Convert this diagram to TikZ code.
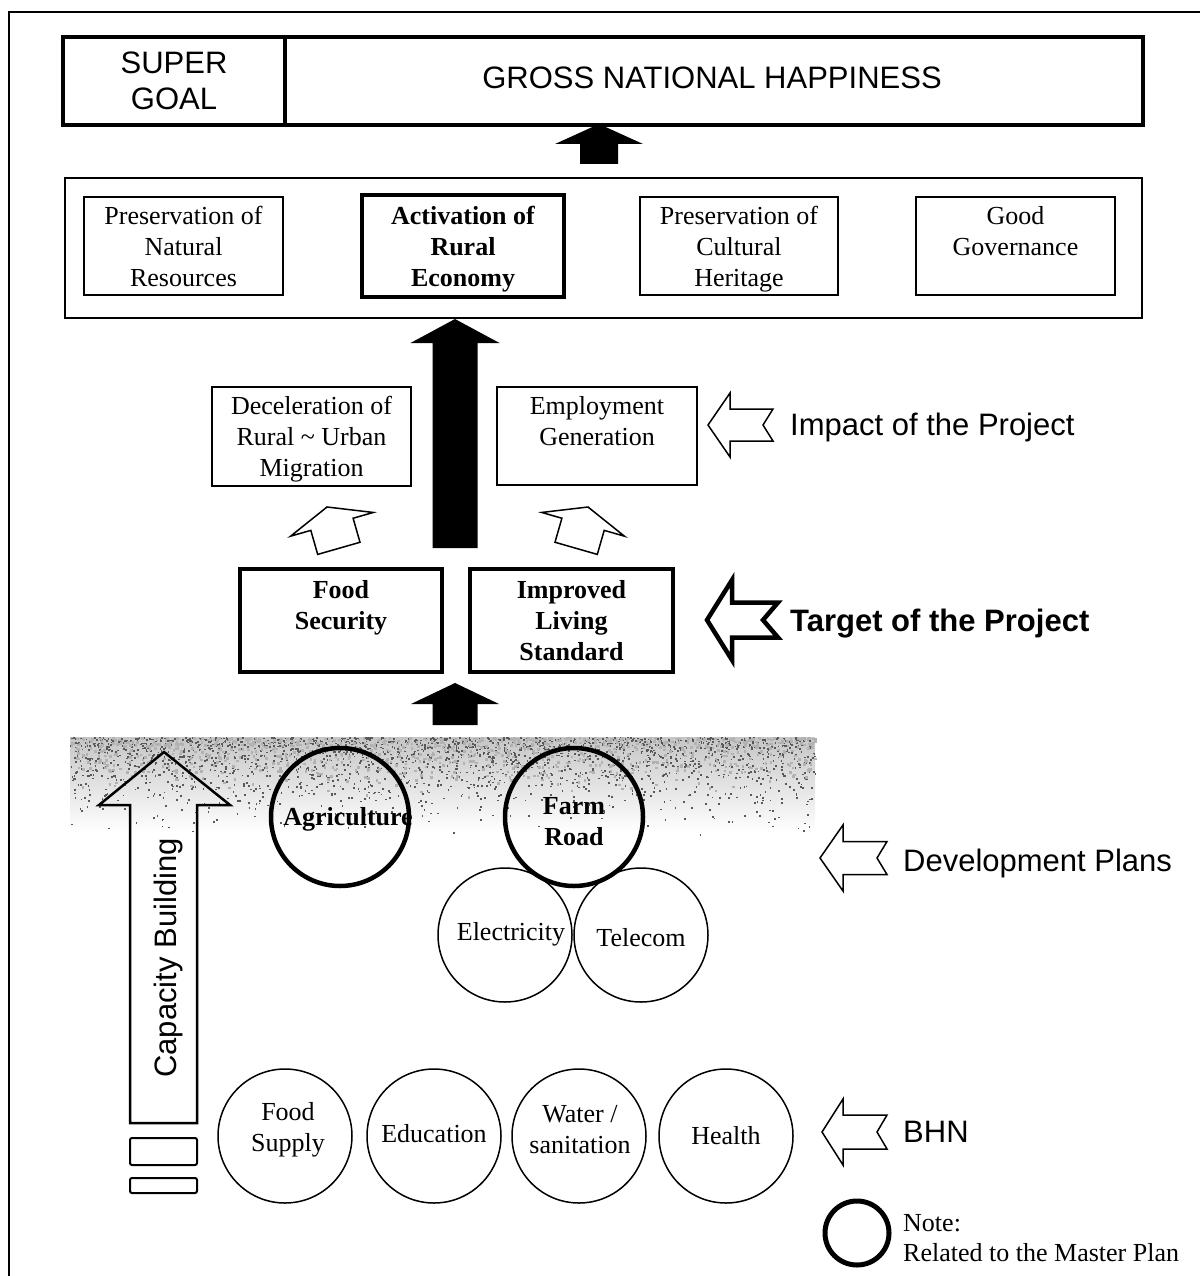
\documentclass[tikz,border=0pt]{standalone}
\usepackage{fontspec}
\setmainfont{Liberation Serif}
\setsansfont{Liberation Sans}
\usetikzlibrary{calc}

% solid block arrow pointing up: centre x, tip y, head base y, tail y, head half width, shaft half width
\newcommand\blackup[6]{%
  \fill (#1,#2) -- ({#1+#5},#3) -- ({#1+#6},#3) -- ({#1+#6},#4)
        -- ({#1-#6},#4) -- ({#1-#6},#3) -- ({#1-#5},#3) -- cycle;}

% hollow arrow pointing left with a notched tail:
% style, tip x, tip y, head half, shaft half, head length, total length, notch depth
\newcommand\leftnotch[8]{%
  \draw[#1] (#2,#3) -- ({#2+#6},{#3-#4}) -- ({#2+#6},{#3-#5}) -- ({#2+#7},{#3-#5})
        -- ({#2+#7-#8},#3) -- ({#2+#7},{#3+#5}) -- ({#2+#6},{#3+#5})
        -- ({#2+#6},{#3+#4}) -- cycle;}

\tikzset{
  thinbox/.style={draw, line width=1.5pt, inner sep=0pt, align=center},
  thickbox/.style={draw, line width=4.5pt, inner sep=0pt, align=center},
  thinring/.style={draw, circle, line width=1.5pt, inner sep=0pt, minimum size=134pt},
  thickring/.style={draw, circle, line width=4.5pt, inner sep=0pt, minimum size=138pt},
  serif/.style={font=\fontsize{26}{31}\selectfont, align=center, inner sep=0pt},
  serifb/.style={font=\fontsize{26}{31}\selectfont\bfseries, align=center, inner sep=0pt},
  sanslbl/.style={font=\sffamily\fontsize{31}{36}\selectfont, inner sep=0pt, anchor=west},
  sansbig/.style={font=\sffamily\fontsize{31}{36}\selectfont, align=center, inner sep=0pt},
  hollowup/.pic={\draw[line width=1.5pt, line join=miter]
      (0,0) -- (43,18) -- (22,18) -- (22,43) -- (-22,43) -- (-22,18) -- (-43,18) -- cycle;}
}

\begin{document}
\begin{tikzpicture}[x=1pt, y=-1pt]
\useasboundingbox (0,0) rectangle (1200,1276);

% page frame (top and left edges)
\draw[line width=1.5pt] (9,1276) -- (9,12) -- (1200,12);

% grainy band behind the development plans
\shade[top color=gray!45, bottom color=white] (70,737) rectangle (815,832);
\pgfmathsetseed{11}
\foreach \i in {1,...,2200}{
  \pgfmathsetmacro\nx{70+745*rnd}
  \pgfmathsetmacro\ny{737+100*rnd*rnd}
  \fill[black!65] (\nx,\ny) rectangle ++(1.7,1.7);
}
\foreach \i in {1,...,900}{
  \pgfmathsetmacro\nx{70+745*rnd}
  \pgfmathsetmacro\ny{737+60*rnd*rnd}
  \fill[gray!60] (\nx,\ny) rectangle ++(2.6,2.6);
}

% super goal
\node[thickbox, minimum width=222pt, minimum height=88pt, sansbig,
      font=\sffamily\fontsize{31}{36}\selectfont] (sg) at (174,81) {SUPER\\GOAL};
\node[thickbox, minimum width=858pt, minimum height=88pt] (gnh) at (714,81) {};
\node[sansbig] (gnht) at (712,78) {GROSS NATIONAL HAPPINESS};

\blackup{599}{124}{144}{164}{44}{19}

% national goals
\node[thinbox, minimum width=1077pt, minimum height=140pt] (goals) at (603.5,248) {};
\node[thinbox, serif, minimum width=199pt, minimum height=98pt] (nat) at (183.5,246)
  {Preservation of\\Natural\\Resources};
\node[thickbox, serifb, minimum width=202pt, minimum height=102pt] (act) at (463,246)
  {Activation of\\Rural\\\smash{Economy}};
\node[thinbox, serif, minimum width=198pt, minimum height=98pt] (cul) at (739,246)
  {Preservation of\\Cultural\\\smash{Heritage}};
\node[thinbox, serif, minimum width=199pt, minimum height=98pt] (gov) at (1015.5,246)
  {Good\\Governance\\\mbox{}};

\blackup{455}{319}{343}{548}{44.5}{22.5}

% impact of the project
\node[thinbox, serif, minimum width=199pt, minimum height=99pt] (dec) at (311.5,436.5)
  {Deceleration of\\Rural \textasciitilde{} Urban\\\smash{Migration}};
\node[thinbox, serif, minimum width=200pt, minimum height=98pt] (emp) at (597,436)
  {Employment\\Generation\\\mbox{}};

\pic[rotate=16] at (327,507) {hollowup};
\pic[rotate=-16] at (588,507) {hollowup};

% target of the project
\node[thickbox, serifb, minimum width=202pt, minimum height=103pt] (food) at (341,620.5)
  {Food\\Security\\\mbox{}};
\node[thickbox, serifb, minimum width=203pt, minimum height=103pt] (liv) at (571.5,620.5)
  {Improved\\Living\\Standard};

\blackup{455}{683}{704}{725}{44}{22.5}

% right-hand labels
\leftnotch{line width=1.5pt, line join=miter}{708}{425}{32}{16}{22}{65}{10}
\node[sanslbl] (impact) at (790,427) {Impact of the Project};
\leftnotch{line width=4.5pt, line join=miter}{707}{620}{40}{17.5}{25}{71}{15}
\node[sanslbl, font=\sffamily\bfseries\fontsize{31}{36}\selectfont] (target) at (790,624)
  {Target of the Project};
\leftnotch{line width=1.5pt, line join=miter}{820}{858}{33}{16.5}{23}{67}{10}
\node[sanslbl] (devp) at (903,863) {Development Plans};
\leftnotch{line width=1.5pt, line join=miter}{822}{1132}{33}{17}{21}{65}{10}
\node[sanslbl] (bhn) at (903,1132) {BHN};

% capacity building arrow
\draw[line width=2.5pt, line join=miter] (130,1123) -- (130,805) -- (99,805) -- (164,752)
  -- (230,805) -- (197,805) -- (197,1123) -- cycle;
\node[sansbig, rotate=90] (cap) at (168,958) {Capacity Building};
\draw[line width=2pt, rounded corners=2pt] (130,1138) rectangle (197,1165);
\draw[line width=2pt, rounded corners=2pt] (130,1178) rectangle (197,1193);

% development plans
\node[thickring] (agri) at (340,817) {};
\node[serifb] (agrit) at (348,819) {Agriculture};
\node[thickring] (road) at (574,817) {};
\node[serifb] (roadt) at (574,822) {Farm\\Road};
\node[thinring] (elec) at (505,935) {};
\node[serif] (elect) at (511,934) {Electricity};
\node[thinring] (tel) at (641,935) {};
\node[serif] (telt) at (641,938) {Telecom};

% basic human needs
\node[thinring] (fs) at (285,1136) {};
\node[serif] (fst) at (288,1130) {Food\\Supply};
\node[thinring] (edu) at (434,1136) {};
\node[serif] (edut) at (434,1134) {Education};
\node[thinring] (wat) at (579,1136) {};
\node[serif] (watt) at (580,1130) {Water /\\sanitation};
\node[thinring] (hea) at (726,1136) {};
\node[serif] (heat) at (726,1136) {Health};

% legend
\node[draw, circle, line width=5pt, minimum size=64pt, inner sep=0pt] (key) at (857,1233) {};
\node[align=left, anchor=west, inner sep=0pt, font=\fontsize{26}{30}\selectfont] (keyt)
  at (903,1238) {Note:\\Related to the Master Plan};
\end{tikzpicture}
\end{document}
